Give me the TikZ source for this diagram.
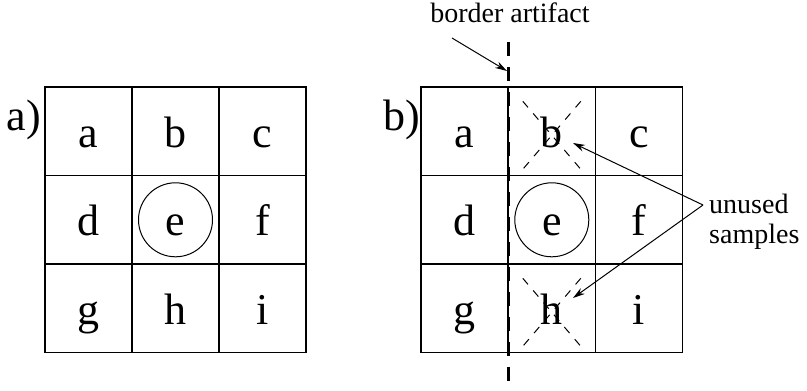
\documentclass[tikz,border=0pt]{standalone}
\usepackage{fontspec}
\setmainfont{Liberation Serif}
\usetikzlibrary{arrows.meta}
\begin{document}
\begin{tikzpicture}[x=1pt,y=-1pt,
  cell/.style={draw,line width=1.2pt,minimum width=87pt,minimum height=88.5pt,inner sep=0pt,font=\fontsize{44}{44}\selectfont,text height=32pt,text depth=0pt},
  lbl/.style={font=\fontsize{44}{44}\selectfont,inner sep=0pt},
  note/.style={font=\fontsize{28}{30}\selectfont,inner sep=0pt,align=left},
  arr/.style={line width=1pt,-{Stealth[length=12pt,width=7pt]}},
  xdash/.style={line width=1pt,dash pattern=on 8pt off 8pt},
  bdash/.style={line width=3pt,dash pattern=on 14pt off 11pt}]
\useasboundingbox (0,0) rectangle (807,391);
% grids
\foreach \n/\c/\r in {a/0/0,b/1/0,c/2/0,d/0/1,e/1/1,f/2/1,g/0/2,h/1/2,i/2/2}{
  \node[cell] (A\n) at ({45+43.5+87*\c},{87+44.3+88.5*\r}) {\n};
  \node[cell] (B\n) at ({421+43.5+87.3*\c},{87+44.3+88.5*\r}) {\n};
}
\node[lbl] (la) at (24,120) {a)};
\node[lbl] (lb) at (402,120) {b)};
\draw[line width=1pt] (Ae.center) circle (37);
\draw[line width=1pt] (Be.center) circle (37);
% crosses
\draw[xdash] ([shift={(-29,-30)}]Bb.center) -- ([shift={(29,38)}]Bb.center);
\draw[xdash] ([shift={(29,-30)}]Bb.center) -- ([shift={(-29,38)}]Bb.center);
\draw[xdash] ([shift={(-29,-30)}]Bh.center) -- ([shift={(29,38)}]Bh.center);
\draw[xdash] ([shift={(29,-30)}]Bh.center) -- ([shift={(-29,38)}]Bh.center);
% border artifact
\coordinate (dtop) at (508,42);
\coordinate (dbot) at (508,391);
\draw[bdash] (dtop) -- (dbot);
\node[note,anchor=base] (ba) at (510,22) {border artifact};
\coordinate (bas) at (452,38);
\coordinate (bae) at (507,71);
\draw[arr] (bas) -- (bae);
% unused samples
\node[note,anchor=west] (us) at (709,222) {unused\\samples};
\coordinate (apex) at (703,205);
\coordinate (tb) at (573,143);
\coordinate (th) at (573,298);
\draw[arr] (apex) -- (tb);
\draw[arr] (apex) -- (th);
\end{tikzpicture}
\end{document}
